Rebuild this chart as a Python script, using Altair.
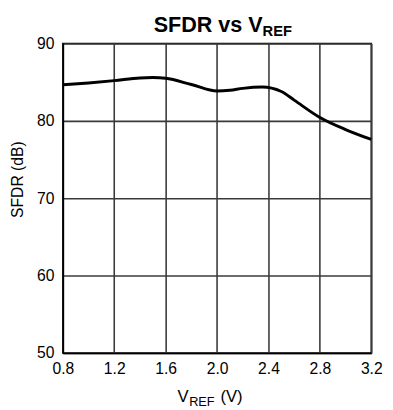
import altair as alt
import pandas as pd

vref = [0.8, 1.0, 1.2, 1.4, 1.5, 1.6, 1.8, 2.0, 2.1, 2.2, 2.35, 2.5, 2.6, 2.8, 3.0, 3.2]
sfdr = [84.66, 84.9, 85.2, 85.55, 85.6, 85.5, 84.7, 83.86, 83.95, 84.2, 84.37, 83.8, 82.68, 80.44, 78.88, 77.6]
x_ticks = [0.8, 1.2, 1.6, 2.0, 2.4, 2.8, 3.2]
y_ticks = [50, 60, 70, 80, 90]

df = pd.DataFrame({"vref": vref, "sfdr": sfdr})
one = pd.DataFrame({"a": [0]})

FONT = "Liberation Sans"
GRID = "#3a3a3a"

line = alt.Chart(df).mark_line(color="black", strokeWidth=3, interpolate="monotone").encode(
    x=alt.X("vref:Q", scale=alt.Scale(domain=[0.8, 3.2], nice=False),
            axis=alt.Axis(values=x_ticks, format=".1f", title=None, grid=True,
                          gridColor=GRID, gridWidth=1.6, ticks=False, labelFlush=False,
                          labelFontSize=16, labelFont=FONT, labelColor="black",
                          labelPadding=8, domainColor="black", domainWidth=1.6)),
    y=alt.Y("sfdr:Q", scale=alt.Scale(domain=[50, 90], nice=False),
            axis=alt.Axis(values=y_ticks, title=None, grid=True,
                          gridColor=GRID, gridWidth=1.6, ticks=False, labelFlush=False,
                          labelFontSize=16, labelFont=FONT, labelColor="black",
                          labelPadding=9, domainColor="black", domainWidth=1.6)),
)

def txt(s, x, y, size, bold=False, align="left", angle=0):
    kw = dict(font=FONT, fontSize=size, fontWeight="bold" if bold else "normal",
              color="black", align=align, baseline="alphabetic")
    if angle:
        kw["angle"] = angle
    return alt.Chart(one).mark_text(**kw).encode(
        x=alt.value(x), y=alt.value(y), text=alt.value(s))

title_main = txt("SFDR vs V", 204, -12, 22, bold=True, align="right")
title_sub = txt("REF", 204, -8, 15, bold=True, align="left")
xt_main = txt("V", 117, 366, 17)
xt_sub = txt("REF", 129, 370, 13)
xt_rest = txt("(V)", 161, 366, 17)
yt = txt("SFDR (dB)", -41, 139, 16, align="center", angle=270)

chart = alt.layer(line, title_main, title_sub, xt_main, xt_sub, xt_rest, yt).properties(
    width=315, height=316,
    autosize=alt.AutoSizeParams(type="none"),
    padding={"left": 56, "top": 32, "right": 14, "bottom": 54},
).configure_view(stroke="black", strokeWidth=1.6)

chart.save("out.html", embed_options={"renderer": "svg", "actions": False})
